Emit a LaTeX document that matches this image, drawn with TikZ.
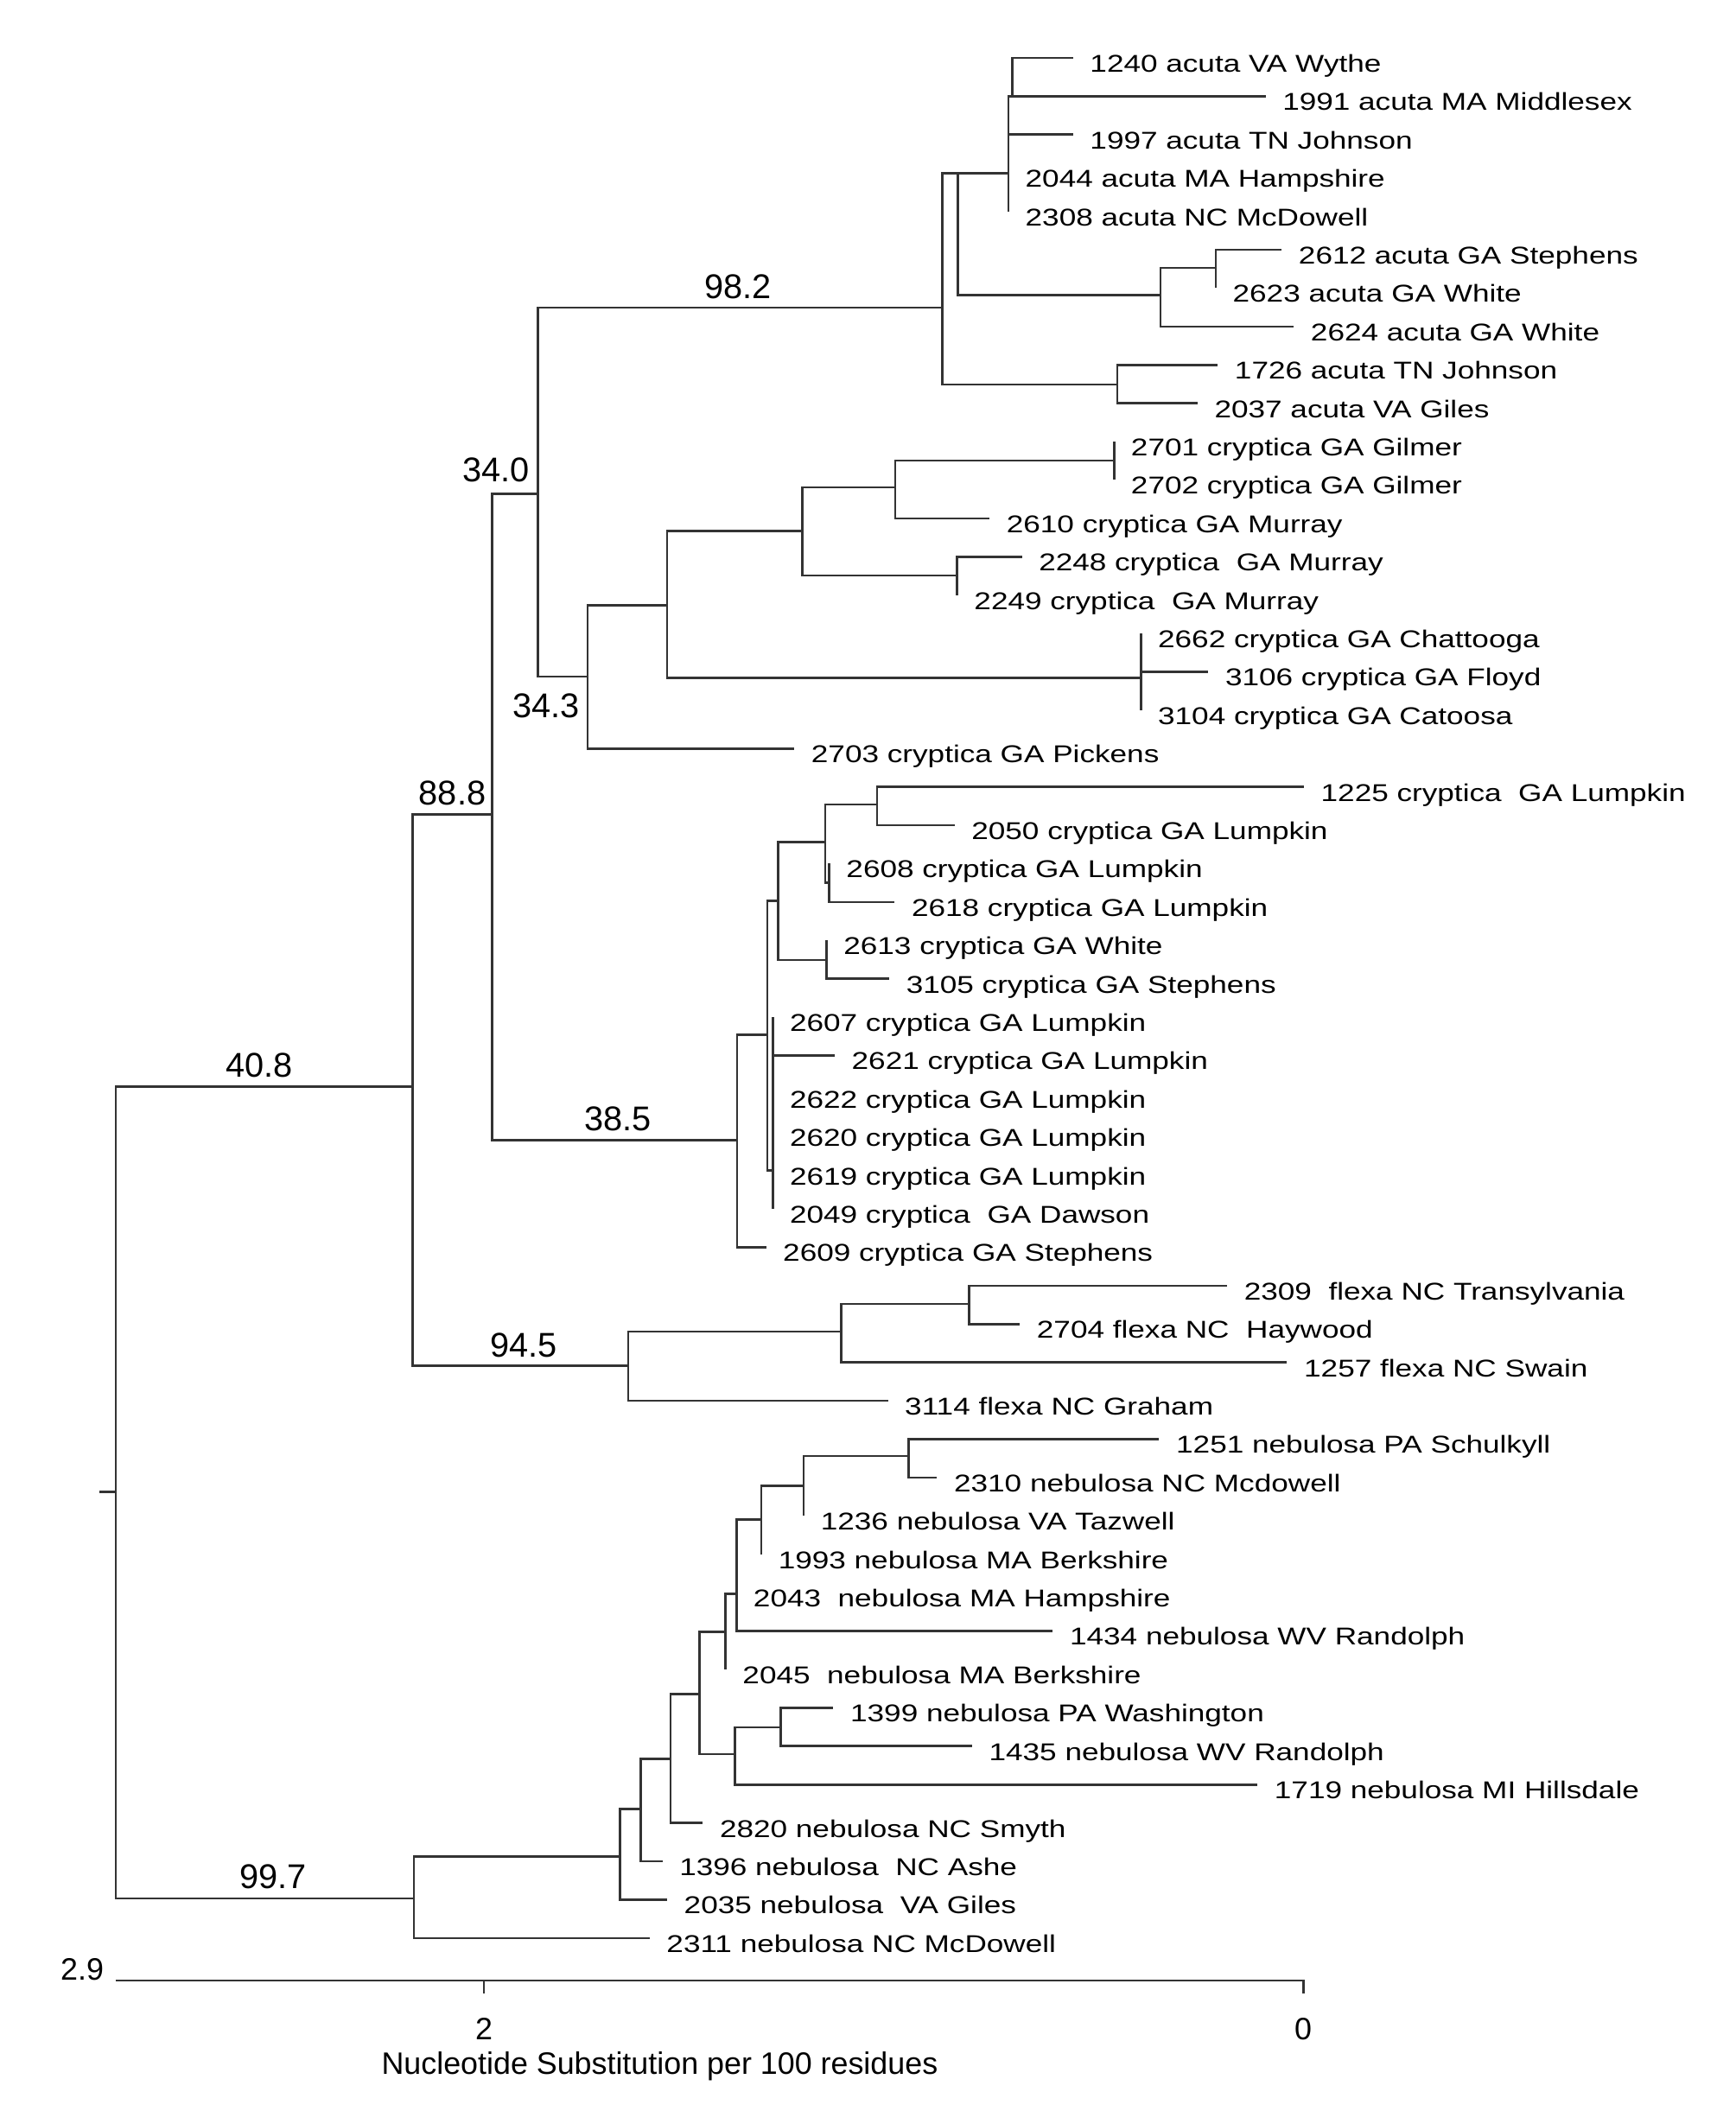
\documentclass[tikz,border=0pt]{standalone}
\usepackage{fontspec}
\setmainfont{Liberation Sans}
\newfontfamily\leaffont[FakeStretch=1.25]{Liberation Sans}
\begin{document}
\begin{tikzpicture}[x=0.015578cm,y=-0.015578cm,
		br/.style={line width=0.75pt,black!80},
		leaf/.style={anchor=base west,inner sep=0pt,xshift=0.19cm,yshift=-0.164cm,
			font=\leaffont\fontsize{8}{9.6}\selectfont},
		boot/.style={inner sep=0pt,font=\fontsize{11.3}{13}\selectfont},
		axislbl/.style={inner sep=0pt,font=\fontsize{10.2}{12}\selectfont}]
	\useasboundingbox (0,0) rectangle (1289,1568);
	% inner nodes
	\coordinate (rs) at (74,1108);
	\coordinate (root) at (86,1108);
	\coordinate (n408) at (306.5,807);
	\coordinate (n888) at (365.5,605);
	\coordinate (n340) at (399.5,367);
	\coordinate (n982) at (700,228.5);
	\coordinate (a2) at (711.5,128.5);
	\coordinate (a3) at (749,128.5);
	\coordinate (a3b) at (752,71.5);
	\coordinate (a4) at (862,219);
	\coordinate (a4b) at (903,199);
	\coordinate (a5) at (830,285.5);
	\coordinate (n343) at (436.5,502.5);
	\coordinate (c2) at (495.5,449.5);
	\coordinate (c3) at (596,394.5);
	\coordinate (c4) at (665,362);
	\coordinate (c5) at (827.5,342);
	\coordinate (c7) at (711,427.5);
	\coordinate (c6) at (847.5,503.5);
	\coordinate (n385) at (547.5,847);
	\coordinate (d2) at (570,768.5);
	\coordinate (d2b) at (574,869.5);
	\coordinate (d3) at (578,669);
	\coordinate (d4) at (613,625.5);
	\coordinate (d4b) at (616,655.5);
	\coordinate (d5) at (651.5,597.5);
	\coordinate (d7) at (614,713);
	\coordinate (n945) at (466.5,1014.5);
	\coordinate (f2) at (625,989);
	\coordinate (f3) at (720,968.5);
	\coordinate (n997) at (307.5,1410);
	\coordinate (nj) at (460.5,1379);
	\coordinate (ni) at (476,1343.5);
	\coordinate (nh) at (498,1306.5);
	\coordinate (nf) at (519.5,1258.5);
	\coordinate (ne) at (539,1212);
	\coordinate (nd) at (547,1184);
	\coordinate (nc) at (565.5,1128.5);
	\coordinate (nb) at (597,1103.5);
	\coordinate (na) at (675,1081.5);
	\coordinate (ng) at (546,1303);
	\coordinate (nk) at (580,1283);
	% leaves: name/tip x/row/label
	\foreach \n/\x/\r/\txt in {
		1240/797/0/1240 acuta VA Wythe, 1991/940/1/1991 acuta MA Middlesex,
		1997/797/2/1997 acuta TN Johnson, 2044/749/3/2044 acuta MA Hampshire,
		2308/749/4/2308 acuta NC McDowell, 2612/952/5/2612 acuta GA Stephens,
		2623/903/6/2623 acuta GA White, 2624/961/7/2624 acuta GA White,
		1726/904.5/8/1726 acuta TN Johnson, 2037/889.5/9/2037 acuta VA Giles,
		2701/827.5/10/2701 cryptica GA Gilmer, 2702/827.5/11/2702 cryptica GA Gilmer,
		2610/735/12/2610 cryptica GA Murray, 2248/759/13/2248 cryptica~ GA Murray,
		2249/711/14/2249 cryptica~ GA Murray, 2662/847.5/15/2662 cryptica GA Chattooga,
		3106/897.5/16/3106 cryptica GA Floyd, 3104/847.5/17/3104 cryptica GA Catoosa,
		2703/590/18/2703 cryptica GA Pickens, 1225/968.5/19/1225 cryptica~ GA Lumpkin,
		2050/709/20/2050 cryptica GA Lumpkin, 2608/616/21/2608 cryptica GA Lumpkin,
		2618/664.5/22/2618 cryptica GA Lumpkin, 2613/614/23/2613 cryptica GA White,
		3105/660.5/24/3105 cryptica GA Stephens, 2607/574/25/2607 cryptica GA Lumpkin,
		2621/620/26/2621 cryptica GA Lumpkin, 2622/574/27/2622 cryptica GA Lumpkin,
		2620/574/28/2620 cryptica GA Lumpkin, 2619/574/29/2619 cryptica GA Lumpkin,
		2049/574/30/2049 cryptica~ GA Dawson, 2609/569/31/2609 cryptica GA Stephens,
		2309/911.5/32/2309~ flexa NC Transylvania, 2704/757.5/33/2704 flexa NC~ Haywood,
		1257/956/34/1257 flexa NC Swain, 3114/659.5/35/3114 flexa NC Graham,
		1251/861/36/1251 nebulosa PA Schulkyll, 2310/696/37/2310 nebulosa NC Mcdowell,
		1236/597/38/1236 nebulosa VA Tazwell, 1993/565.5/39/1993 nebulosa MA Berkshire,
		2043/547/40/2043~ nebulosa MA Hampshire, 1434/782/41/1434 nebulosa WV Randolph,
		2045/539/42/2045~ nebulosa MA Berkshire, 1399/619/43/1399 nebulosa PA Washington,
		1435/722/44/1435 nebulosa WV Randolph, 1719/934/45/1719 nebulosa MI Hillsdale,
		2820/522/46/2820 nebulosa NC Smyth, 1396/492/47/1396 nebulosa~ NC Ashe,
		2035/495.5/48/2035 nebulosa~ VA Giles, 2311/482.5/49/2311 nebulosa NC McDowell}{
		\coordinate (t\n) at (\x,{43+28.5*\r});
		\node[leaf] (l\n) at (t\n) {\txt};
	}
	% branches
	\draw[br] (rs) -- (root);
	\foreach \p/\c in {root/n408, root/n997, n408/n888, n408/n945, n888/n340, n888/n385,
		n340/n982, n340/n343, n982/a2, n982/a5, a2/a3, a2/a4,
		a3/a3b, a3/t1997, a3/t2044, a3/t2308, a3b/t1240, a3b/t1991,
		a4/a4b, a4/t2624, a4b/t2612, a4b/t2623, a5/t1726, a5/t2037,
		n343/c2, n343/t2703, c2/c3, c2/c6, c3/c4, c3/c7, c4/c5, c4/t2610,
		c5/t2701, c5/t2702, c7/t2248, c7/t2249, c6/t2662, c6/t3106, c6/t3104,
		n385/d2, n385/t2609, d2/d3, d2/d2b, d3/d4, d3/d7, d4/d5, d4/d4b,
		d5/t1225, d5/t2050, d4b/t2608, d4b/t2618, d7/t2613, d7/t3105,
		d2b/t2607, d2b/t2621, d2b/t2622, d2b/t2620, d2b/t2619, d2b/t2049,
		n945/f2, n945/t3114, f2/f3, f2/t1257, f3/t2309, f3/t2704,
		n997/nj, n997/t2311, nj/ni, nj/t2035, ni/nh, ni/t1396, nh/nf, nh/t2820,
		nf/ne, nf/ng, ne/nd, ne/t2045, nd/nc, nd/t2043, nd/t1434,
		nc/nb, nc/t1993, nb/na, nb/t1236, na/t1251, na/t2310,
		ng/nk, ng/t1719, nk/t1399, nk/t1435}{
		\draw[br] (\p) |- (\c);
	}
	% bootstrap values
	\node[boot] (b408) at (192.5,791) {40.8};
	\node[boot] (b888) at (336,589) {88.8};
	\node[boot] (b340) at (368.5,349) {34.0};
	\node[boot] (b982) at (548,213) {98.2};
	\node[boot] (b343) at (405.5,524) {34.3};
	\node[boot] (b385) at (459,831) {38.5};
	\node[boot] (b945) at (389,999) {94.5};
	\node[boot] (b997) at (203,1394) {99.7};
	% scale bar
	\coordinate (sbl) at (86,1471);
	\coordinate (sbr) at (968,1471);
	\coordinate (sb2) at (359.5,1471);
	\coordinate (sb2e) at (359.5,1481);
	\coordinate (sb0e) at (968,1481);
	\draw[br] (sbl) -- (sbr) -- (sb0e);
	\draw[br] (sb2) -- (sb2e);
	\node[axislbl] (s29) at (61,1463) {2.9};
	\node[axislbl] (s2) at (359.5,1507) {2};
	\node[axislbl] (s0) at (968,1507) {0};
	\node[axislbl] (stitle) at (490,1535) {Nucleotide Substitution per 100 residues};
\end{tikzpicture}
\end{document}
